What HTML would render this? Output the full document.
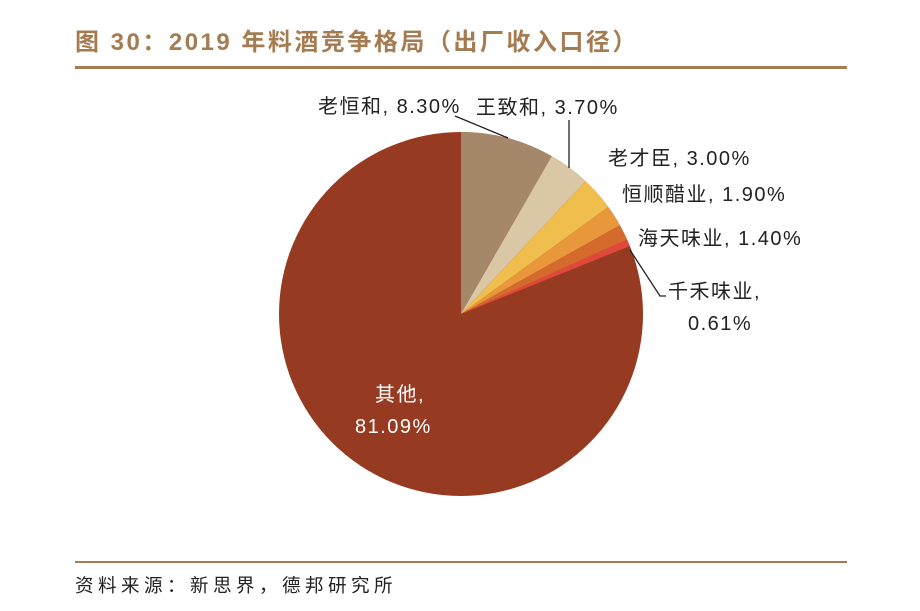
<!DOCTYPE html><html><head><meta charset="utf-8"><style>
body{margin:0;background:#fff;width:920px;height:606px;overflow:hidden;font-family:"Liberation Sans","Noto Sans CJK SC",sans-serif}
</style></head><body>
<svg width="920" height="606" xmlns="http://www.w3.org/2000/svg" font-family="Liberation Sans, Noto Sans CJK SC, sans-serif">
<text x="75" y="50" font-size="24" font-weight="bold" fill="#a57c52" letter-spacing="2.5">图 30：2019 年料酒竞争格局（出厂收入口径）</text>
<rect x="75" y="66" width="772" height="3" fill="#a57c52"/>
<rect x="75" y="561" width="772" height="2" fill="#a57c52"/>
<text x="75" y="592" font-size="18.5" fill="#222" letter-spacing="4.5">资料来源：新思界，德邦研究所</text>
<g stroke="none">
<circle cx="461" cy="314" r="182" fill="#963a21"/>
<path d="M461 314 L461 132 A182 182 0 0 1 551.7 156.2Z" fill="#a5876a"/>
<path d="M461 314 L551.7 156.2 A182 182 0 0 1 585.6 181.3Z" fill="#d9c7a6"/>
<path d="M461 314 L585.6 181.3 A182 182 0 0 1 608.2 207Z" fill="#f0be4c"/>
<path d="M461 314 L608.2 207 A182 182 0 0 1 619.9 225.3Z" fill="#e8973a"/>
<path d="M461 314 L619.9 225.3 A182 182 0 0 1 627.1 239.6Z" fill="#d46a2c"/>
<path d="M461 314 L627.1 239.6 A182 182 0 0 1 629.8 246.1Z" fill="#e0483a"/>
</g>
<g stroke="#222" stroke-width="1.3" fill="none">
<path d="M455 116 L508 138"/>
<path d="M569 120 L569 168"/>
<path d="M630 250 L660 296 L666 296"/>
</g>
<g font-size="20" fill="#222" letter-spacing="1.5">
<text x="318" y="113">老恒和, 8.30%</text>
<text x="476" y="114">王致和, 3.70%</text>
<text x="608" y="165">老才臣, 3.00%</text>
<text x="622" y="201">恒顺醋业, 1.90%</text>
<text x="638" y="245">海天味业, 1.40%</text>
<text x="668" y="298">千禾味业,</text>
<text x="688" y="330">0.61%</text>
</g>
<g font-size="20" fill="#fff" letter-spacing="1.5">
<text x="375" y="401">其他,</text>
<text x="355" y="433">81.09%</text>
</g>
</svg>
</body></html>
